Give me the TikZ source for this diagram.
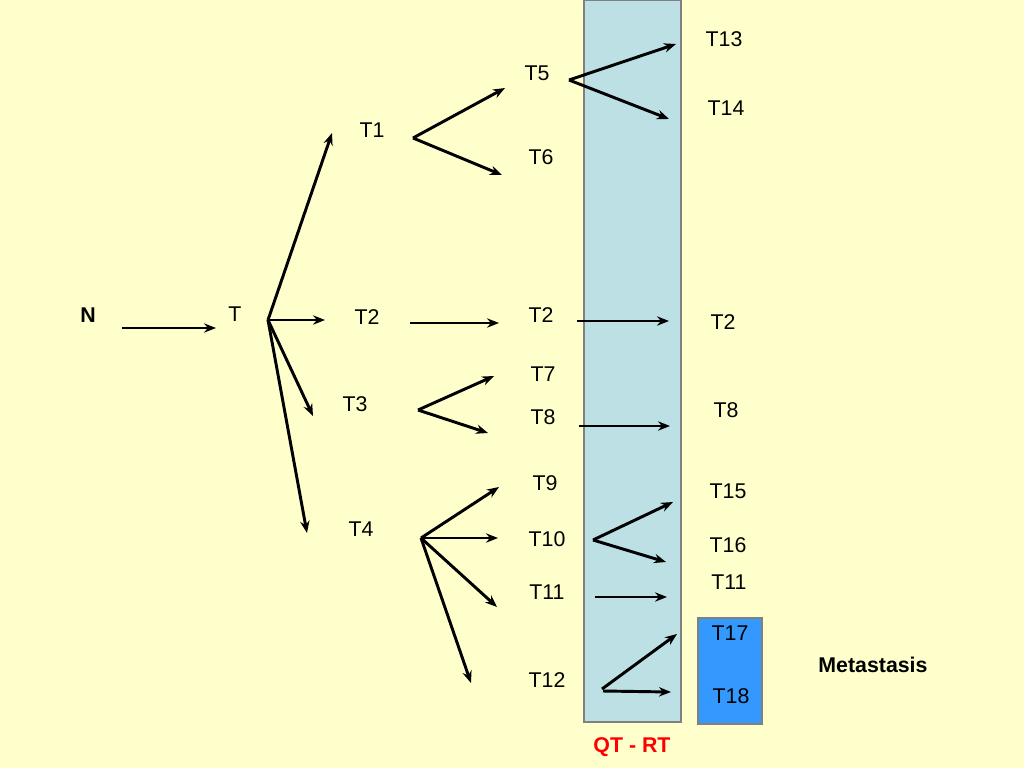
\documentclass[tikz,border=0pt]{standalone}
\usepackage{fontspec}
\setmainfont{Liberation Sans}
\usetikzlibrary{arrows.meta}
\definecolor{bgyellow}{HTML}{FFFFCC}
\definecolor{panelblue}{HTML}{BCE0E4}
\definecolor{metablue}{HTML}{3399FF}
\tikzset{
	lbl/.style={font=\fontsize{16}{18}\selectfont},
	arr/.style={line width=2.2pt, -{Stealth[length=9pt,width=7pt]}}
}
\begin{document}
\begin{tikzpicture}[x=0.75pt, y=-0.75pt]
	\fill[bgyellow] (0,0) rectangle (1024,768);
	\useasboundingbox (0,0) rectangle (1024,768);
	\filldraw[fill=panelblue, draw=gray, line width=1.5pt] (584,0) rectangle (681,722);
	\filldraw[fill=metablue, draw=gray, line width=1pt] (698,618) rectangle (762,724);
	% labels
	\node[lbl, font=\fontsize{16}{18}\selectfont\bfseries] (n) at (88,315) {N};
	\node[lbl] (t)   at (235,314) {T};
	\node[lbl] (t1)  at (372,130) {T1};
	\node[lbl] (t2)  at (367,317) {T2};
	\node[lbl] (t3)  at (355,404) {T3};
	\node[lbl] (t4)  at (361,529) {T4};
	\node[lbl] (t5)  at (537,73)  {T5};
	\node[lbl] (t6)  at (541,157) {T6};
	\node[lbl] (t2b) at (541,315) {T2};
	\node[lbl] (t7)  at (543,374) {T7};
	\node[lbl] (t8)  at (543,417) {T8};
	\node[lbl] (t9)  at (545,483) {T9};
	\node[lbl] (t10) at (547,539) {T10};
	\node[lbl] (t11) at (547,592) {T11};
	\node[lbl] (t12) at (547,680) {T12};
	\node[lbl] (t13) at (724,39)  {T13};
	\node[lbl] (t14) at (726,108) {T14};
	\node[lbl] (t2c) at (723,322) {T2};
	\node[lbl] (t8b) at (726,410) {T8};
	\node[lbl] (t15) at (728,491) {T15};
	\node[lbl] (t16) at (728,545) {T16};
	\node[lbl] (t11b) at (729,582) {T11};
	\node[lbl] (t17) at (730,633) {T17};
	\node[lbl] (t18) at (731,696) {T18};
	\node[lbl, font=\fontsize{16}{18}\selectfont\bfseries] (meta) at (873,665) {Metastasis};
	\node[lbl, font=\fontsize{16}{18}\selectfont\bfseries, text=red] (qt) at (632,747) {QT - RT};
	% arrow ends
	\coordinate (nS) at (122,328); \coordinate (nE) at (216,328);
	\coordinate (tS) at (268,320);
	\coordinate (aS) at (413,138);
	\coordinate (bS) at (418,410);
	\coordinate (cS) at (421,538);
	\coordinate (dS) at (569,80);
	\coordinate (eS) at (593,540);
	\coordinate (fS) at (602,689);
	\draw[arr] (nS) -- (nE);
	\draw[arr] (tS) -- (332,133);
	\draw[arr] (tS) -- (325,320);
	\draw[arr] (tS) -- (313,416);
	\draw[arr] (tS) -- (307,533);
	\draw[arr] (aS) -- (505,88);
	\draw[arr] (aS) -- (502,175);
	\draw[arr] (410,323) -- (499,323);
	\draw[arr] (bS) -- (494,376);
	\draw[arr] (bS) -- (488,433);
	\draw[arr] (cS) -- (499,487);
	\draw[arr] (cS) -- (498,538);
	\draw[arr] (cS) -- (497,607);
	\draw[arr] (cS) -- (471,683);
	\draw[arr] (dS) -- (676,44);
	\draw[arr] (dS) -- (669,119);
	\draw[arr] (577,321) -- (669,321);
	\draw[arr] (579,426) -- (670,426);
	\draw[arr] (eS) -- (673,502);
	\draw[arr] (eS) -- (666,562);
	\draw[arr] (595,597) -- (667,597);
	\draw[arr] (fS) -- (677,634);
	\draw[arr] (603,691) -- (671,692);
\end{tikzpicture}
\end{document}
